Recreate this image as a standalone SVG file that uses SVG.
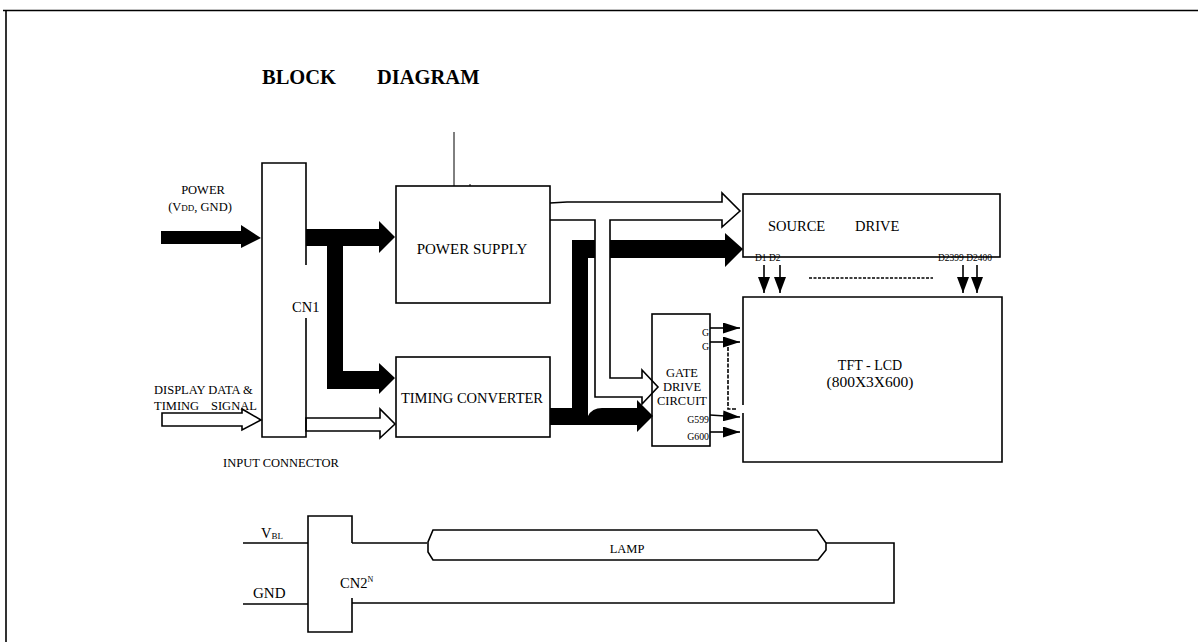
<svg xmlns="http://www.w3.org/2000/svg" width="1198" height="642" viewBox="0 0 1198 642">
<style>
text{font-family:"Liberation Serif","Times New Roman",serif;fill:#000}
.ln{fill:none;stroke:#000;stroke-width:1.6}
.thin{fill:none;stroke:#000;stroke-width:1}
.blk{fill:#000;stroke:none}
.wht{fill:#fff;stroke:#000;stroke-width:1.6;stroke-linejoin:miter}
.t12{font-size:12.5px}
.t14{font-size:14.5px}
.tD{font-size:9.5px}
.tG{font-size:9.8px}
</style>
<defs>
<marker id="ahd" viewBox="0 0 16 12" refX="16" refY="6" markerWidth="16" markerHeight="12" markerUnits="userSpaceOnUse" orient="auto"><path d="M0,0 L16,6 L0,12 Z" fill="#000"/></marker>
<marker id="ahg" viewBox="0 0 17 11" refX="17" refY="5.5" markerWidth="17" markerHeight="11" markerUnits="userSpaceOnUse" orient="auto"><path d="M0,0 L17,5.5 L0,11 Z" fill="#000"/></marker>
</defs>
<rect x="0" y="0" width="1198" height="642" fill="#fff"/>
<g id="frame">
<path class="ln" d="M3,10.5 H1198 M6,10 V642" stroke-width="2"/>
</g>
<text x="262" y="84" font-size="20.5" font-weight="bold">BLOCK<tspan x="377">DIAGRAM</tspan></text>

<g id="connectors">
<polygon class="blk" points="161,231 241,231 241,225 261,238 241,248 241,244 161,244"/>
<polygon class="blk" points="306,229 379,229 379,221 395,237 379,253 379,246 343,246 343,371 379,371 379,363 395,378 379,394 379,389 327,389 327,246 306,246"/>
<path class="blk" d="M572,240 H725 V233 L743,249 L725,267 V258 H588 V416 Q592,408 602,408 H637 V400 L653,416 L637,432 V425 H550 V408 H572 Z"/>
<path class="wht" d="M550,203 L567,202 H722 V193 L740,211 L722,227 V220 H610 V378 H642 V370 L658,387 L642,404 V397 H595 V220 H550"/>
<polygon class="wht" points="162,413 242,413 242,409 261,420 242,430 242,426 162,426"/>
<polygon class="wht" points="306,418 380,418 380,409 395,424 380,438 380,431 306,431"/>
<path class="thin" d="M454,132 V186 M470,184 V186"/>
<g class="ln">
<line x1="764" y1="265" x2="764" y2="293" marker-end="url(#ahd)"/>
<line x1="780" y1="265" x2="780" y2="293" marker-end="url(#ahd)"/>
<line x1="963" y1="265" x2="963" y2="293" marker-end="url(#ahd)"/>
<line x1="977" y1="265" x2="977" y2="293" marker-end="url(#ahd)"/>
<line x1="710" y1="328" x2="740" y2="328" marker-end="url(#ahg)"/>
<line x1="710" y1="342" x2="740" y2="342" marker-end="url(#ahg)"/>
<line x1="710" y1="415" x2="740" y2="417" marker-end="url(#ahg)"/>
<line x1="710" y1="432" x2="740" y2="432" marker-end="url(#ahg)"/>
</g>
<path class="ln" d="M809,278 H933" stroke-dasharray="3,1.5" stroke-width="1.4"/>
<path class="ln" d="M728,347 V409 H736" stroke-dasharray="4,1.5" stroke-width="1.4"/>
<path class="ln" d="M243,543 H308 M243,604 H308 M352,543 H427 M826,543 H894 V603 H352"/>
</g>

<g id="cn1">
<path class="ln" d="M306,265 V163 H262 V437 H306 V318"/>
<text class="t14" x="292" y="312">CN1</text>
</g>
<g id="power-in-label">
<text class="t12" x="203" y="194" text-anchor="middle">POWER</text>
<text class="t12" x="200" y="211" text-anchor="middle">(V<tspan font-size="9">DD</tspan>, GND)</text>
</g>
<g id="display-label">
<text class="t12" x="154" y="394">DISPLAY DATA &amp;</text>
<text class="t12" x="154" y="410">TIMING<tspan x="211">SIGNAL</tspan></text>
<text class="t12" x="223" y="467">INPUT CONNECTOR</text>
</g>
<g id="power-supply">
<rect class="ln" x="396" y="186" width="154" height="117"/>
<text font-size="15" x="472" y="254" text-anchor="middle">POWER SUPPLY</text>
</g>
<g id="timing-converter">
<rect class="ln" x="396" y="357" width="154" height="80"/>
<text class="t14" x="472" y="403" text-anchor="middle">TIMING CONVERTER</text>
</g>
<g id="source-drive">
<rect class="ln" x="743" y="194" width="257" height="63"/>
<text class="t14" x="768" y="231">SOURCE<tspan x="855">DRIVE</tspan></text>
<text class="tD" x="755" y="261">D1 D2</text>
<text class="tD" x="938" y="261">D2399 D2400</text>
</g>
<g id="gate-drive">
<rect class="ln" x="652" y="314" width="58" height="132"/>
<text class="t12" x="682" y="377" text-anchor="middle">GATE</text>
<text class="t12" x="682" y="391" text-anchor="middle">DRIVE</text>
<text class="t12" x="682" y="405" text-anchor="middle">CIRCUIT</text>
<text class="tG" x="709" y="336" text-anchor="end">G</text>
<text class="tG" x="709" y="350" text-anchor="end">G</text>
<text class="tG" x="709" y="423" text-anchor="end">G599</text>
<text class="tG" x="709" y="440" text-anchor="end">G600</text>
</g>
<g id="tft-lcd">
<path class="ln" d="M743,405 V297 H1002 V462 H743 V413"/>
<text font-size="14" x="870" y="370" text-anchor="middle">TFT - LCD</text>
<text font-size="15.5" x="870" y="387" text-anchor="middle">(800X3X600)</text>
</g>
<g id="cn2">
<path class="ln" d="M352,543 V516 H308 V632 H352 V598"/>
<text class="t14" x="340" y="588">CN2<tspan font-size="8" dy="-6">N</tspan></text>
<text font-size="14.5" x="261" y="538">V<tspan font-size="9" dy="1">BL</tspan></text>
<text font-size="15" x="253" y="598">GND</text>
</g>
<g id="lamp">
<polygon class="ln" points="433,530 817,530 826,543 826,550 818,560 433,560 428,552 428,542"/>
<text font-size="12.5" x="627" y="553" text-anchor="middle">LAMP</text>
</g>
</svg>
